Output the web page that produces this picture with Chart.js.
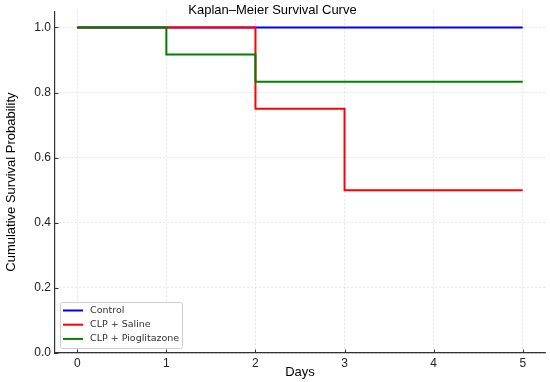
<!DOCTYPE html>
<html>
<head>
<meta charset="utf-8">
<script src="https://cdn.jsdelivr.net/npm/chart.js@4.4.0/dist/chart.umd.min.js"></script>
<style>
  html, body { margin: 0; padding: 0; background: #fff; }
  #wrap { width: 550px; height: 382px; }
</style>
</head>
<body>
<div id="wrap"><canvas id="kmChart"></canvas></div>
<script>
// survival data
var days = [0, 1, 2, 3, 4, 5];
var controlSurv = [1.0, 1.0, 1.0, 1.0, 1.0, 1.0];
var salineSurv = [1.0, 1.0, 0.75, 0.5, 0.5, 0.5];
var pioSurv = [1.0, 0.917, 0.833, 0.833, 0.833, 0.833];
var seriesNames = ["Control", "CLP + Saline", "CLP + Pioglitazone"];

function toPoints(vals) {
  return days.map(function (d, i) { return { x: d, y: vals[i] }; });
}

// legend drawn inside the plot, lower left + small inward ticks
var innerLegend = {
  id: 'innerLegend',
  afterDatasetsDraw: function (chart) {
    var ctx = chart.ctx, area = chart.chartArea;
    var w = 122, h = 46;
    var x0 = area.left + 5, y0 = area.bottom - 5 - h;
    ctx.save();
    ctx.fillStyle = 'rgba(255,255,255,0.85)';
    ctx.strokeStyle = '#d0d0d0';
    ctx.lineWidth = 1;
    ctx.beginPath();
    ctx.roundRect(x0 + 0.5, y0 + 0.5, w, h, 2);
    ctx.fill();
    ctx.stroke();
    ctx.font = '9.5px "DejaVu Sans"';
    ctx.textBaseline = 'middle';
    chart.data.datasets.forEach(function (ds, i) {
      var yy = y0 + 8.5 + i * 14.2;
      ctx.strokeStyle = ds.borderColor;
      ctx.lineWidth = 2;
      ctx.beginPath();
      ctx.moveTo(x0 + 3, yy);
      ctx.lineTo(x0 + 23, yy);
      ctx.stroke();
      ctx.fillStyle = '#333';
      ctx.fillText(ds.label, x0 + 30, yy);
    });

    // inward tick marks like the original
    var xs = chart.scales.x, ys = chart.scales.y;
    ctx.strokeStyle = '#333';
    ctx.lineWidth = 1;
    ctx.beginPath();
    xs.ticks.forEach(function (t) {
      var px = Math.round(xs.getPixelForValue(t.value)) + 0.5;
      ctx.moveTo(px, area.bottom);
      ctx.lineTo(px, area.bottom - 3.5);
    });
    ys.ticks.forEach(function (t) {
      var py = Math.round(ys.getPixelForValue(t.value)) + 0.5;
      ctx.moveTo(area.left, py);
      ctx.lineTo(area.left + 3.5, py);
    });
    ctx.stroke();
    ctx.restore();
  }
};

var ctxK = document.getElementById("kmChart").getContext('2d');
var kmChart = new Chart(ctxK, {
  type: 'line',
  data: {
    datasets: [
      { label: seriesNames[0], data: toPoints(controlSurv), borderColor: "#0000ff", order: 2 },
      { label: seriesNames[1], data: toPoints(salineSurv), borderColor: "#ff0000", order: 1 },
      { label: seriesNames[2], data: toPoints(pioSurv), borderColor: "#008000", order: 0 }
    ]
  },
  options: {
    responsive: true,
    maintainAspectRatio: false,
    animation: false,
    layout: { padding: { left: 0, right: 5, top: 0, bottom: 0 } },
    elements: {
      line: { borderWidth: 2, stepped: 'before', fill: false },
      point: { radius: 0 }
    },
    plugins: {
      legend: { display: false },
      tooltip: { enabled: false },
      title: {
        display: true,
        text: 'Kaplan\u2013Meier Survival Curve',
        color: '#000',
        font: { family: '"Liberation Sans"', size: 13, weight: 'normal' },
        padding: { top: 1, bottom: -6.95 }
      }
    },
    scales: {
      x: {
        type: 'linear',
        min: -0.25,
        max: 5.25,
        afterFit: function (s) { s.height = 29; },
        ticks: {
          stepSize: 1,
          includeBounds: false,
          padding: 3,
          color: '#222',
          font: { family: '"Liberation Sans"', size: 12 }
        },
        grid: { color: 'rgba(0,0,0,0.13)', lineWidth: 0.8, drawTicks: false },
        border: { color: '#333', width: 1.2, dash: [2, 2] },
        title: {
          display: true,
          text: 'Days',
          color: '#000',
          font: { family: '"Liberation Sans"', size: 13 },
          padding: { top: 0, bottom: 2 }
        }
      },
      y: {
        min: 0,
        max: 1.05,
        afterFit: function (s) { s.width = 55; },
        ticks: {
          stepSize: 0.2,
          includeBounds: false,
          padding: 4,
          color: '#222',
          font: { family: '"Liberation Sans"', size: 12 },
          callback: function (v) { return v.toFixed(1); }
        },
        grid: { color: 'rgba(0,0,0,0.13)', lineWidth: 0.8, drawTicks: false },
        border: { color: '#333', width: 1.2, dash: [2, 2] },
        title: {
          display: true,
          text: 'Cumulative Survival Probability',
          color: '#000',
          font: { family: '"Liberation Sans"', size: 13 },
          padding: { top: 4, bottom: 0 }
        }
      }
    }
  },
  plugins: [innerLegend]
});
</script>
</body>
</html>
